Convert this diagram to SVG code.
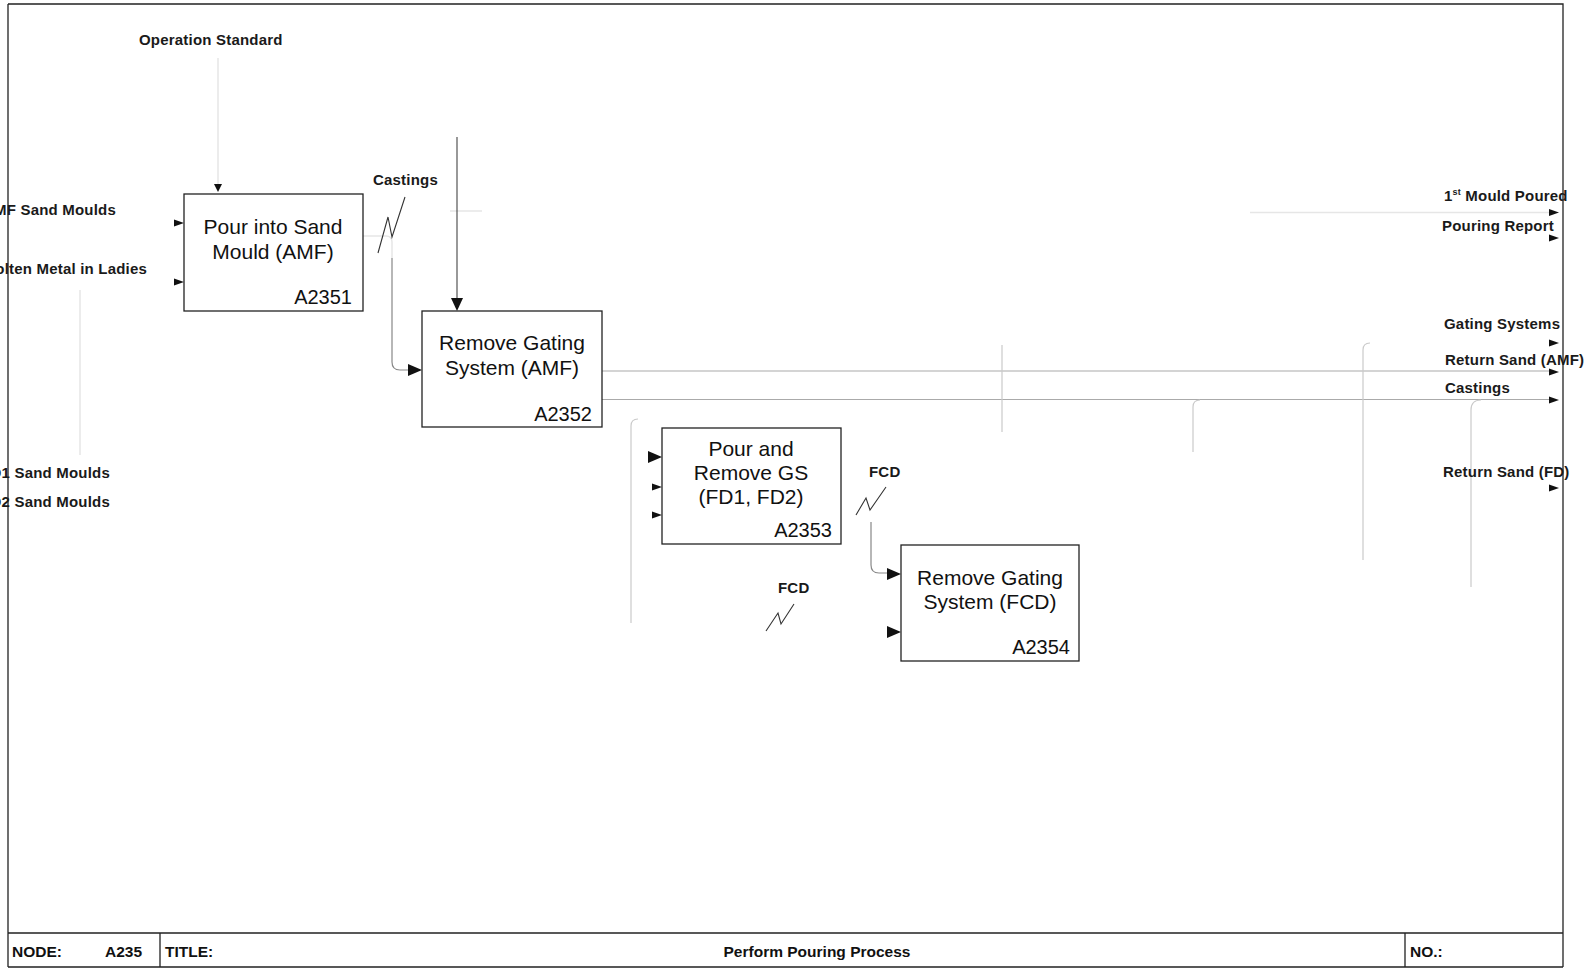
<svg xmlns="http://www.w3.org/2000/svg" width="1595" height="969" viewBox="0 0 1595 969">
<style>
.bg{fill:#fff}
.frame{fill:none;stroke:#222;stroke-width:1.3}
.box{fill:#fff;stroke:#222;stroke-width:1.3}
.bt{font-family:"Liberation Sans",Arial,sans-serif;font-size:21px;fill:#111;text-anchor:middle}
.bid{font-family:"Liberation Sans",Arial,sans-serif;font-size:20px;fill:#111;text-anchor:end}
.lbl{font-family:"Liberation Sans",Arial,sans-serif;font-size:15px;font-weight:bold;fill:#1a1a1a;letter-spacing:0.2px}
.lble{font-family:"Liberation Sans",Arial,sans-serif;font-size:15px;font-weight:bold;fill:#1a1a1a;letter-spacing:0.2px;text-anchor:end}
.ft{font-family:"Liberation Sans",Arial,sans-serif;font-size:15.5px;font-weight:bold;fill:#111}
.c1{fill:none;stroke:#888;stroke-width:1.2}
.c0{fill:none;stroke:#444;stroke-width:1.1}
.c2{fill:none;stroke:#aaa;stroke-width:1.2}
.c3{fill:none;stroke:#cacaca;stroke-width:1.2}
.c4{fill:none;stroke:#e6e6e6;stroke-width:1.5}
.sq{fill:none;stroke:#333;stroke-width:1.1}
.ah{fill:#111}
</style>
<rect class="bg" x="0" y="0" width="1595" height="969"/>
<g id="frame">
<path class="frame" d="M8,4 H1563 V967 M8,4 V967 M8,933 H1563 M8,967 H1563 M160,933 V967 M1405,933 V967"/>
<text class="ft" x="12" y="957">NODE:</text>
<text class="ft" x="105" y="957">A235</text>
<text class="ft" x="165" y="957">TITLE:</text>
<text class="ft" x="817" y="957" text-anchor="middle">Perform Pouring Process</text>
<text class="ft" x="1410" y="957">NO.:</text>
</g>
<g id="connectors">
<path class="c4" d="M218,58 V186"/>
<path class="c4" d="M80,290 V455"/>
<path class="c4" d="M363,236 H386 Q392,236 392,242 V258"/>
<path class="c4" d="M450,211 H482"/>
<path class="c1" d="M392,258 V362 Q392,370 400,370 H410"/>
<path class="c0" d="M457,137 V300"/>
<path class="c2" d="M602,371 H1550"/>
<path class="c2" d="M602,399.5 H1550"/>
<path class="c3" d="M631,623 V426 Q631,419 638,419"/>
<path class="c3" d="M1002,345 V432"/>
<path class="c3" d="M1193,452 V407 Q1193,400 1200,400"/>
<path class="c3" d="M1363,560 V350 Q1363,343 1370,343"/>
<path class="c3" d="M1471,587 V410 Q1471,400 1481,400"/>
<path class="c4" d="M1250,212.5 H1550"/>
<path class="c1" d="M871,522 V565 Q871,573 879,573 H889"/>
<path class="sq" d="M378,253 L388,217 L392,237 L405,197"/>
<path class="sq" d="M856,515 L866,498 L870,510 L886,487"/>
<path class="sq" d="M766,631 L778,613 L781,624 L794,604"/>
<polygon class="ah" points="184,223 174,219.5 174,226.5"/>
<polygon class="ah" points="184,282 174,278.5 174,285.5"/>
<polygon class="ah" points="218,192 214,184 222,184"/>
<polygon class="ah" points="457,311 451,298 463,298"/>
<polygon class="ah" points="422,370 408,364 408,376"/>
<polygon class="ah" points="662,457 648,451 648,463"/>
<polygon class="ah" points="662,487 652,483.5 652,490.5"/>
<polygon class="ah" points="662,515 652,511.5 652,518.5"/>
<polygon class="ah" points="901,574 887,568 887,580"/>
<polygon class="ah" points="901,632 887,626 887,638"/>
<polygon class="ah" points="1559,212.5 1549,209 1549,216"/>
<polygon class="ah" points="1559,238 1549,234.5 1549,241.5"/>
<polygon class="ah" points="1559,343 1549,339.5 1549,346.5"/>
<polygon class="ah" points="1559,372 1549,368.5 1549,375.5"/>
<polygon class="ah" points="1559,400 1549,396.5 1549,403.5"/>
<polygon class="ah" points="1559,488 1549,484.5 1549,491.5"/>
</g>
<g id="labels">
<text class="lbl" x="139" y="45">Operation Standard</text>
<text class="lble" x="116" y="215">AMF Sand Moulds</text>
<text class="lble" x="147" y="274">Molten Metal in Ladies</text>
<text class="lble" x="110" y="478">FD1 Sand Moulds</text>
<text class="lble" x="110" y="507">FD2 Sand Moulds</text>
<text class="lbl" x="373" y="185">Castings</text>
<text class="lbl" x="869" y="477">FCD</text>
<text class="lbl" x="778" y="593">FCD</text>
<text class="lbl" x="1444" y="201">1<tspan font-size="9" dy="-6">st</tspan><tspan dy="6"> Mould Poured</tspan></text>
<text class="lbl" x="1442" y="231">Pouring Report</text>
<text class="lbl" x="1444" y="329">Gating Systems</text>
<text class="lbl" x="1445" y="365">Return Sand (AMF)</text>
<text class="lbl" x="1445" y="393">Castings</text>
<text class="lbl" x="1443" y="477">Return Sand (FD)</text>
</g>
<g id="A2351">
<rect class="box" x="184" y="194" width="179" height="117"/>
<text class="bt" x="273" y="234">Pour into Sand</text>
<text class="bt" x="273" y="259">Mould (AMF)</text>
<text class="bid" x="352" y="304">A2351</text>
</g>
<g id="A2352">
<rect class="box" x="422" y="311" width="180" height="116"/>
<text class="bt" x="512" y="350">Remove Gating</text>
<text class="bt" x="512" y="375">System (AMF)</text>
<text class="bid" x="592" y="421">A2352</text>
</g>
<g id="A2353">
<rect class="box" x="662" y="428" width="179" height="116"/>
<text class="bt" x="751" y="456">Pour and</text>
<text class="bt" x="751" y="480">Remove GS</text>
<text class="bt" x="751" y="504">(FD1, FD2)</text>
<text class="bid" x="832" y="537">A2353</text>
</g>
<g id="A2354">
<rect class="box" x="901" y="545" width="178" height="116"/>
<text class="bt" x="990" y="585">Remove Gating</text>
<text class="bt" x="990" y="609">System (FCD)</text>
<text class="bid" x="1070" y="654">A2354</text>
</g>
</svg>
